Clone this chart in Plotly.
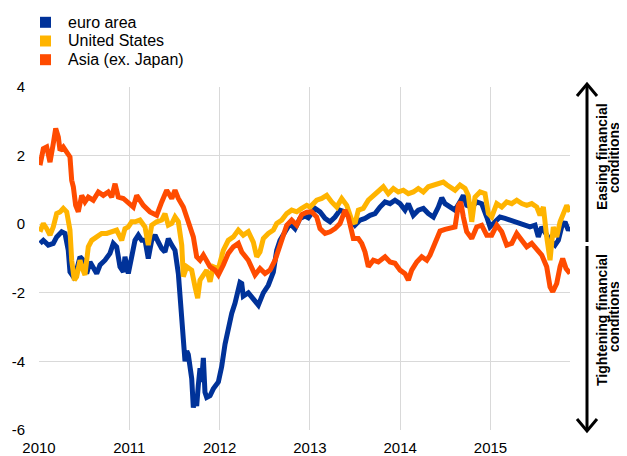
import plotly.graph_objects as go

# decimal-year time axis
euro_t = [2010.011, 2010.048, 2010.103, 2010.158, 2010.196, 2010.251, 2010.288, 2010.324, 2010.343, 2010.380,
          2010.417, 2010.454, 2010.491, 2010.528, 2010.565, 2010.601, 2010.639, 2010.676, 2010.731, 2010.786,
          2010.823, 2010.860, 2010.897, 2010.934, 2010.952, 2010.989, 2011.027, 2011.063, 2011.100, 2011.137,
          2011.174, 2011.210, 2011.248, 2011.285, 2011.321, 2011.359, 2011.395, 2011.432, 2011.470, 2011.506,
          2011.543, 2011.573, 2011.598, 2011.617, 2011.636, 2011.653, 2011.691, 2011.709, 2011.728, 2011.746,
          2011.764, 2011.783, 2011.800, 2011.820, 2011.838, 2011.857, 2011.894, 2011.930, 2011.986, 2012.023,
          2012.060, 2012.096, 2012.134, 2012.171, 2012.207, 2012.226, 2012.245, 2012.262, 2012.318, 2012.373,
          2012.429, 2012.484, 2012.539, 2012.595, 2012.632, 2012.669, 2012.724, 2012.780, 2012.835, 2012.890,
          2012.946, 2012.982, 2013.057, 2013.112, 2013.167, 2013.223, 2013.278, 2013.333, 2013.389, 2013.444,
          2013.499, 2013.555, 2013.610, 2013.666, 2013.721, 2013.776, 2013.832, 2013.887, 2013.942, 2013.998,
          2014.053, 2014.090, 2014.145, 2014.200, 2014.256, 2014.311, 2014.367, 2014.422, 2014.460, 2014.496,
          2014.551, 2014.607, 2014.662, 2014.699, 2014.736, 2014.792, 2014.847, 2014.902, 2014.958, 2014.994,
          2015.050, 2015.105, 2015.161, 2015.216, 2015.271, 2015.327, 2015.382, 2015.437, 2015.493, 2015.529,
          2015.567, 2015.604, 2015.659, 2015.714, 2015.751, 2015.788, 2015.825, 2015.862, 2015.880]
euro_v = [-0.56, -0.47, -0.61, -0.56, -0.37, -0.22, -0.27, -0.76, -1.39, -1.53,
          -1.34, -0.95, -1.05, -1.44, -1.10, -1.24, -1.44, -1.19, -1.05, -0.85,
          -0.56, -0.66, -1.24, -1.39, -0.95, -1.44, -0.95, -0.47, -0.32, -0.47,
          -0.47, -1.00, -0.47, -0.32, -0.52, -0.71, -0.81, -0.42, -0.61, -0.76,
          -1.44, -2.40, -3.50, -4.00, -3.70, -3.80, -4.50, -5.35, -5.00, -5.30,
          -4.70, -4.20, -4.60, -3.90, -4.90, -5.05, -5.00, -4.80, -4.60, -4.15,
          -3.50, -3.00, -2.60, -2.30, -1.85, -1.70, -1.73, -2.10, -2.00, -2.20,
          -2.36, -2.00, -1.78, -1.40, -0.76, -0.47, -0.22, 0.02, -0.13, 0.17,
          0.24, 0.19, 0.46, 0.36, 0.17, 0.07, 0.21, 0.41, 0.36, 0.17,
          -0.03, 0.12, 0.17, 0.26, 0.31, 0.50, 0.65, 0.60, 0.70, 0.60,
          0.41, 0.60, 0.26, 0.41, 0.46, 0.31, 0.21, 0.50, 0.77, 0.60,
          0.50, 0.41, 0.65, 0.84, 0.55, 0.50, 0.65, 0.60, 0.21, -0.08,
          0.07, 0.21, 0.17, 0.12, 0.07, 0.02, -0.03, -0.08, -0.03, -0.37,
          -0.08, -0.22, -0.47, -0.61, -0.47, -0.08, 0.07, -0.18, -0.08]

us_t = [2010.011, 2010.048, 2010.085, 2010.122, 2010.158, 2010.196, 2010.233, 2010.269, 2010.307, 2010.343,
        2010.362, 2010.391, 2010.417, 2010.454, 2010.473, 2010.509, 2010.546, 2010.584, 2010.639, 2010.694,
        2010.750, 2010.805, 2010.860, 2010.916, 2010.952, 2010.989, 2011.027, 2011.063, 2011.118, 2011.174,
        2011.210, 2011.248, 2011.303, 2011.359, 2011.395, 2011.432, 2011.470, 2011.506, 2011.543, 2011.581,
        2011.598, 2011.636, 2011.691, 2011.728, 2011.757, 2011.783, 2011.820, 2011.857, 2011.894, 2011.930,
        2011.986, 2012.023, 2012.041, 2012.096, 2012.152, 2012.207, 2012.262, 2012.318, 2012.373, 2012.411,
        2012.447, 2012.484, 2012.539, 2012.595, 2012.632, 2012.688, 2012.743, 2012.798, 2012.854, 2012.909,
        2012.965, 2013.001, 2013.038, 2013.075, 2013.131, 2013.186, 2013.241, 2013.297, 2013.352, 2013.408,
        2013.463, 2013.499, 2013.536, 2013.591, 2013.647, 2013.702, 2013.757, 2013.813, 2013.868, 2013.924,
        2013.979, 2014.034, 2014.090, 2014.145, 2014.200, 2014.256, 2014.311, 2014.367, 2014.422, 2014.477,
        2014.515, 2014.551, 2014.607, 2014.662, 2014.718, 2014.754, 2014.792, 2014.828, 2014.884, 2014.939,
        2014.976, 2015.013, 2015.069, 2015.124, 2015.179, 2015.235, 2015.290, 2015.346, 2015.401, 2015.456,
        2015.512, 2015.548, 2015.585, 2015.622, 2015.659, 2015.695, 2015.733, 2015.770, 2015.806, 2015.844,
        2015.880]
us_v = [-0.22, 0.02, -0.13, -0.32, -0.08, 0.31, 0.36, 0.46, 0.36, -0.17,
        -1.05, -1.63, -1.53, -1.05, -1.24, -1.48, -0.66, -0.47, -0.37, -0.27,
        -0.27, -0.22, -0.17, -0.47, -0.13, -0.08, 0.07, 0.07, 0.12, -0.08,
        -0.61, -0.03, 0.07, 0.12, 0.31, -0.03, 0.02, 0.21, 0.07, -0.61,
        -1.53, -1.24, -1.34, -1.83, -2.16, -1.63, -1.48, -1.34, -1.68, -1.24,
        -1.30, -0.85, -0.76, -0.47, -0.37, -0.17, -0.32, -0.22, -0.52, -0.95,
        -0.81, -0.42, -0.27, -0.17, 0.02, 0.12, 0.31, 0.41, 0.36, 0.46,
        0.55, 0.50, 0.62, 0.70, 0.75, 0.84, 0.65, 0.50, 0.75, 0.55,
        0.12, 0.02, 0.41, 0.46, 0.70, 0.84, 0.94, 1.09, 0.89, 1.04,
        0.94, 0.99, 0.89, 0.94, 1.04, 0.94, 1.09, 1.14, 1.18, 1.23,
        1.15, 1.09, 0.99, 1.14, 1.04, 0.84, 0.07, 0.79, 0.94, 0.89,
        0.31, 0.21, 0.60, 0.50, 0.65, 0.60, 0.70, 0.60, 0.55, 0.60,
        0.50, 0.26, 0.50, -0.37, -1.05, -0.08, -0.37, 0.07, 0.31, 0.55,
        0.36]

asia_t = [2010.011, 2010.048, 2010.085, 2010.122, 2010.158, 2010.185, 2010.214, 2010.233, 2010.269, 2010.307,
          2010.343, 2010.362, 2010.380, 2010.406, 2010.435, 2010.473, 2010.509, 2010.546, 2010.601, 2010.657,
          2010.712, 2010.767, 2010.805, 2010.842, 2010.878, 2010.934, 2010.989, 2011.044, 2011.082, 2011.155,
          2011.229, 2011.303, 2011.359, 2011.414, 2011.470, 2011.506, 2011.543, 2011.598, 2011.653, 2011.709,
          2011.746, 2011.783, 2011.820, 2011.894, 2011.949, 2011.986, 2012.041, 2012.096, 2012.152, 2012.207,
          2012.245, 2012.318, 2012.392, 2012.447, 2012.503, 2012.558, 2012.614, 2012.688, 2012.743, 2012.798,
          2012.854, 2012.909, 2012.965, 2013.020, 2013.075, 2013.112, 2013.167, 2013.223, 2013.278, 2013.333,
          2013.389, 2013.425, 2013.481, 2013.536, 2013.574, 2013.610, 2013.647, 2013.702, 2013.757, 2013.832,
          2013.887, 2013.942, 2013.998, 2014.053, 2014.090, 2014.127, 2014.183, 2014.238, 2014.294, 2014.330,
          2014.367, 2014.404, 2014.441, 2014.496, 2014.551, 2014.607, 2014.643, 2014.670, 2014.699, 2014.736,
          2014.792, 2014.847, 2014.902, 2014.958, 2015.013, 2015.069, 2015.124, 2015.179, 2015.235, 2015.290,
          2015.346, 2015.401, 2015.456, 2015.512, 2015.567, 2015.622, 2015.659, 2015.689, 2015.733, 2015.770,
          2015.799, 2015.836, 2015.880]
asia_v = [1.72, 2.20, 2.25, 1.81, 2.35, 2.79, 2.54, 2.15, 2.25, 2.10,
          1.96, 1.28, 1.09, 0.55, 0.36, 0.84, 0.65, 0.79, 0.70, 0.94,
          0.84, 0.94, 0.79, 1.18, 0.79, 0.75, 0.60, 0.50, 0.84, 0.55,
          0.36, 0.26, 0.65, 0.99, 0.75, 0.99, 0.75, 0.50, 0.07, -0.37,
          -0.95, -1.05, -0.90, -1.24, -1.34, -1.48, -1.19, -0.85, -0.66, -0.56,
          -0.81, -1.05, -1.48, -1.29, -1.44, -1.34, -1.05, -0.47, -0.03, 0.12,
          -0.03, 0.28, 0.35, 0.36, 0.21, -0.13, -0.27, -0.22, -0.13, 0.02,
          0.41, 0.21, -0.42, -0.42, -0.56, -0.81, -1.24, -1.05, -1.10, -0.95,
          -1.10, -1.14, -1.34, -1.44, -1.63, -1.34, -1.10, -0.95, -1.05, -0.90,
          -0.66, -0.37, -0.20, -0.15, -0.10, -0.08, 0.55, 0.65, 0.21, -0.22,
          -0.42, -0.08, -0.03, -0.32, -0.32, -0.03, -0.22, -0.61, -0.56, -0.27,
          -0.47, -0.66, -0.56, -0.71, -0.90, -1.24, -1.83, -1.97, -1.73, -1.24,
          -1.00, -1.29, -1.44]

series_names = ["euro area", "United States", "Asia (ex. Japan)"]
series_colors = ["#003299", "#FFB400", "#FF4B00"]
x_ticks = [2010, 2011, 2012, 2013, 2014, 2015]
x_ticktext = ["2010", "2011", "2012", "2013", "2014", "2015"]
y_ticks = [-6, -4, -2, 0, 2, 4]
y_ticktext = ["-6", "-4", "-2", "0", "2", "4"]

FONT = "Liberation Sans, Arial, sans-serif"

# The page body has an 8px margin; the figure is sized so it ends at the window edge.
OFF = 8
W, H = 619, 448
L, R, T, B = 31, 57, 79, 26
pw, ph = W - L - R, H - T - B

def px(xp):  # page pixel x -> paper coordinate
    return (xp - OFF - L) / pw

def py(yp):  # page pixel y -> paper coordinate
    return (H - B - (yp - OFF)) / ph

fig = go.Figure()
for t, v, name, col in zip([euro_t, us_t, asia_t], [euro_v, us_v, asia_v], series_names, series_colors):
    fig.add_trace(go.Scatter(x=t, y=v, mode="lines", name=name, line=dict(color=col, width=5),
                             showlegend=False, hoverinfo="skip"))

shapes = []
annotations = []

# legend: colour squares + labels
leg_rows = [22.3, 41.0, 59.7]
for name, col, yc in zip(series_names, series_colors, leg_rows):
    shapes.append(dict(type="rect", xref="paper", yref="paper", x0=px(40), x1=px(51),
                       y0=py(yc + 5.5), y1=py(yc - 5.5), fillcolor=col, line=dict(width=0)))
    annotations.append(dict(text=name, x=px(66), y=py(yc), xref="paper", yref="paper",
                            xanchor="left", yanchor="middle", showarrow=False,
                            font=dict(family=FONT, size=16, color="black")))

arrow_line = dict(color="black", width=3)
ax = 587
shapes.append(dict(type="line", xref="paper", yref="paper", x0=px(ax), x1=px(ax), y0=py(84), y1=py(242), line=arrow_line))
shapes.append(dict(type="path", xref="paper", yref="paper",
                   path=f"M {px(ax-10)},{py(96)} L {px(ax)},{py(84)} L {px(ax+10)},{py(96)}", line=arrow_line))
shapes.append(dict(type="line", xref="paper", yref="paper", x0=px(ax), x1=px(ax), y0=py(246), y1=py(431), line=arrow_line))
shapes.append(dict(type="path", xref="paper", yref="paper",
                   path=f"M {px(ax-10)},{py(419)} L {px(ax)},{py(431)} L {px(ax+10)},{py(419)}", line=arrow_line))

ann_font = dict(family=FONT, size=14, color="black")
for txt, xx, yy in [("<b>Easing financial</b>", 602, 157), ("<b>conditions</b>", 614, 158),
                    ("<b>Tightening financial</b>", 602, 320), ("<b>conditions</b>", 614, 317)]:
    annotations.append(dict(text=txt, x=px(xx), y=py(yy), xref="paper", yref="paper", textangle=-90,
                            showarrow=False, font=ann_font, xanchor="center", yanchor="middle"))

fig.update_layout(
    width=W, height=H,
    margin=dict(l=L, r=R, t=T, b=B, pad=0, autoexpand=False),
    paper_bgcolor="white", plot_bgcolor="white",
    font=dict(family=FONT, size=15, color="black"),
    showlegend=False,
    shapes=shapes,
    annotations=annotations,
    xaxis=dict(range=[2010, 2015.88], tickvals=x_ticks, ticktext=x_ticktext, showgrid=True,
               gridcolor="#d9d9d9", gridwidth=1, zeroline=False, showline=False, ticks="",
               tickfont=dict(size=15), ticklabelstandoff=7, fixedrange=True, automargin=False),
    yaxis=dict(range=[-6, 4], tickvals=y_ticks, ticktext=y_ticktext, showgrid=True,
               gridcolor="#d9d9d9", gridwidth=1, zeroline=False, showline=False, ticks="",
               tickfont=dict(size=15), ticklabelstandoff=13, fixedrange=True, automargin=False),
)

fig.write_html("out.html")
